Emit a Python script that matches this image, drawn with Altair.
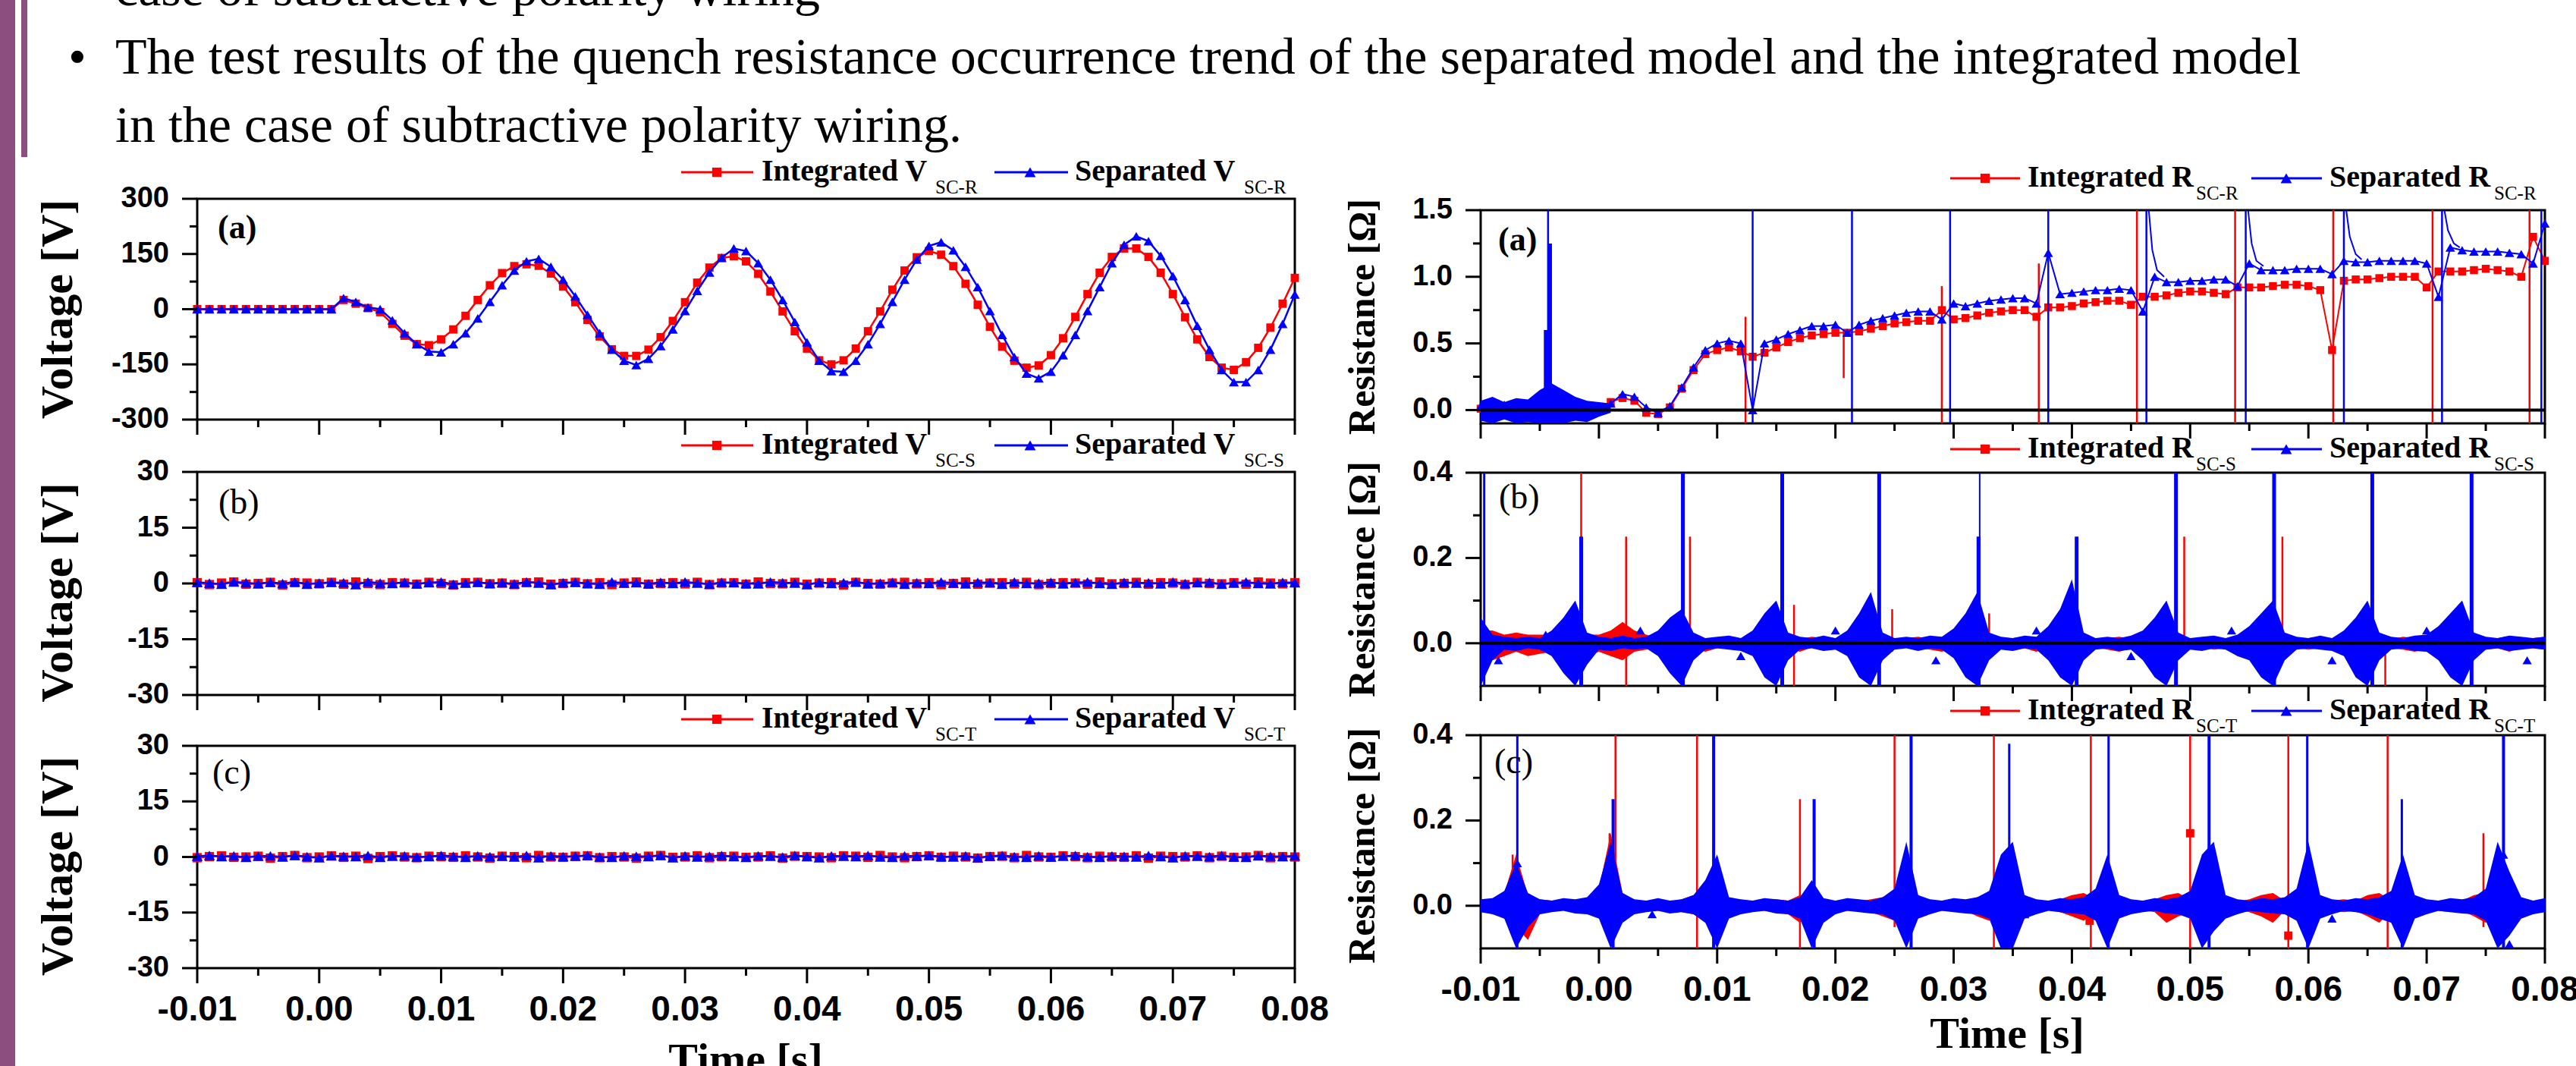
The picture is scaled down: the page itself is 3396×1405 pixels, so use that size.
import altair as alt
import pandas as pd

SERIF = "Liberation Serif"
SANS = "Liberation Sans"
RED = "#FF0000"
BLUE = "#0000FF"
PURPLE = "#8B4E7E"

# ---------------- shared axes data ----------------
TIME = [round(-0.010 + 0.001 * k, 3) for k in range(91)]
X_TICKS = [-0.01, 0.0, 0.01, 0.02, 0.03, 0.04, 0.05, 0.06, 0.07, 0.08]
X_LABELS = ["-0.01", "0.00", "0.01", "0.02", "0.03", "0.04", "0.05", "0.06", "0.07", "0.08"]
X_MINOR = [-0.005, 0.005, 0.015, 0.025, 0.035, 0.045, 0.055, 0.065, 0.075]
VOLT_A_TICKS = [-300, -150, 0, 150, 300]
VOLT_A_LABELS = ["-300", "-150", "0", "150", "300"]
VOLT_A_MINOR = [-225, -75, 75, 225]
VOLT_BC_TICKS = [-30, -15, 0, 15, 30]
VOLT_BC_LABELS = ["-30", "-15", "0", "15", "30"]
VOLT_BC_MINOR = [-22.5, -7.5, 7.5, 22.5]
RES_A_TICKS = [0.0, 0.5, 1.0, 1.5]
RES_A_LABELS = ["0.0", "0.5", "1.0", "1.5"]
RES_A_MINOR = [0.25, 0.75, 1.25]
RES_BC_TICKS = [0.0, 0.2, 0.4]
RES_BC_LABELS = ["0.0", "0.2", "0.4"]
RES_BC_MINOR = [0.1, 0.3]

# ---------------- text ----------------
LINE0 = "case of subtractive polarity wiring"
LINE1 = ("The test results of the quench resistance occurrence trend of the "
         "separated model and the integrated model")
LINE2 = "in the case of subtractive polarity wiring."
SUBS = ["SC-R", "SC-S", "SC-T"]
V_TITLE = "Voltage [V]"
R_TITLE = "Resistance [\u03a9]"
T_TITLE = "Time [s]"

# ---------------- left (a) voltage V_SC-R ----------------
VA_INT = [0, 0, 0, 0, 0, 0, 0, 0, 0, 0,
          0, 0, 25, 15, 3, -8, -40, -72, -95, -98,
          -82, -55, -18, 25, 65, 98, 117, 122, 118, 97,
          62, 19, -29, -74, -109, -127, -127, -110, -76, -32,
          19, 72, 113, 139, 144, 130, 96, 48, -6, -60,
          -107, -139, -150, -139, -107, -60, -6, 53, 105, 141,
          158, 148, 117, 69, 12, -48, -102, -140, -159, -153,
          -125, -79, -21, 41, 99, 142, 165, 165, 142, 99,
          41, -22, -82, -130, -159, -165, -144, -105, -50, 15,
          85]
VA_SEP = [0, 0, 0, 0, 0, 0, 0, 0, 0, 0,
          0, 0, 30, 20, 5, 0, -30, -65, -95, -115,
          -117, -95, -65, -25, 20, 65, 105, 130, 137, 115,
          80, 35, -15, -65, -110, -140, -152, -135, -100, -55,
          -5, 50, 100, 140, 165, 158, 125, 80, 25, -35,
          -90, -140, -168, -170, -140, -95, -40, 20, 80, 135,
          172, 182, 160, 115, 60, -5, -70, -130, -175, -188,
          -170, -125, -70, -5, 60, 125, 175, 198, 185, 145,
          90, 25, -45, -110, -165, -198, -198, -165, -110, -40,
          40]

# ---------------- left (b) V_SC-S, (c) V_SC-T ----------------
VB_INT = [0.2, -0.3, 0.1, 0.4, -0.2, 0.0, 0.3, -0.4, 0.2, 0.1,
          -0.1, 0.3, -0.2, 0.4, 0.0, -0.3, 0.2, 0.1, -0.2, 0.3,
          0.0, -0.4, 0.2, 0.3, -0.1, 0.1, -0.3, 0.2, 0.4, -0.2,
          0.0, 0.3, -0.1, 0.2, -0.3, 0.1, 0.4, -0.2, 0.0, 0.2,
          -0.1, 0.3, -0.3, 0.1, 0.2, -0.2, 0.4, 0.0, -0.1, 0.3,
          -0.2, 0.1, 0.2, -0.4, 0.3, 0.0, -0.2, 0.1, 0.3, -0.1,
          0.2, -0.3, 0.0, 0.4, -0.2, 0.1, 0.2, -0.1, 0.3, -0.3,
          0.0, 0.2, 0.1, -0.2, 0.4, -0.1, 0.0, 0.3, -0.2, 0.2,
          0.1, -0.3, 0.3, 0.0, -0.1, 0.2, -0.2, 0.4, 0.1, -0.1,
          0.2]
VB_SEP = [0.3, 0.1, -0.2, 0.4, 0.2, -0.1, 0.3, 0.0, 0.4, -0.2,
          0.1, 0.3, 0.2, -0.3, 0.4, 0.1, 0.0, 0.3, -0.1, 0.2,
          0.4, -0.2, 0.1, 0.3, 0.0, 0.2, -0.1, 0.4, 0.1, -0.3,
          0.2, 0.3, 0.0, -0.2, 0.4, 0.1, 0.2, -0.1, 0.3, 0.0,
          0.4, 0.1, -0.2, 0.3, 0.2, 0.0, -0.1, 0.4, 0.2, 0.1,
          -0.3, 0.3, 0.0, 0.2, 0.4, -0.1, 0.1, 0.3, -0.2, 0.2,
          0.0, 0.4, 0.1, -0.1, 0.3, 0.2, -0.2, 0.4, 0.0, 0.1,
          0.3, -0.1, 0.2, 0.4, 0.0, -0.2, 0.3, 0.1, 0.2, -0.1,
          0.4, 0.0, 0.2, 0.3, -0.2, 0.1, 0.4, 0.0, -0.1, 0.3,
          0.2]
VC_INT = [-0.2, 0.1, 0.3, -0.1, 0.0, 0.2, -0.3, 0.1, 0.4, -0.2,
          0.0, 0.3, -0.1, 0.2, -0.4, 0.1, 0.3, 0.0, -0.2, 0.2,
          0.1, -0.1, 0.3, 0.0, -0.3, 0.2, 0.1, -0.2, 0.4, 0.0,
          -0.1, 0.2, 0.3, -0.2, 0.1, 0.0, -0.3, 0.2, 0.4, -0.1,
          0.0, 0.3, -0.2, 0.1, 0.2, -0.1, 0.0, 0.3, -0.3, 0.2,
          0.1, 0.0, -0.2, 0.3, 0.2, -0.1, 0.4, 0.0, -0.2, 0.1,
          0.3, -0.1, 0.2, 0.0, -0.3, 0.1, 0.2, -0.2, 0.4, 0.0,
          -0.1, 0.3, 0.1, -0.2, 0.2, 0.0, -0.1, 0.3, -0.3, 0.2,
          0.1, 0.0, 0.3, -0.2, 0.2, -0.1, 0.0, 0.4, -0.2, 0.1,
          0.0]
VC_SEP = [0.2, 0.4, 0.1, 0.3, -0.1, 0.2, 0.3, 0.0, 0.4, 0.1,
          -0.2, 0.3, 0.2, 0.1, 0.4, -0.1, 0.2, 0.3, 0.0, 0.1,
          0.4, 0.2, -0.1, 0.3, 0.1, 0.2, 0.0, 0.4, -0.2, 0.3,
          0.1, 0.2, 0.4, 0.0, -0.1, 0.3, 0.2, 0.1, 0.4, -0.2,
          0.3, 0.0, 0.2, 0.4, 0.1, -0.1, 0.3, 0.2, 0.0, 0.4,
          0.1, -0.2, 0.3, 0.2, 0.1, 0.4, 0.0, -0.1, 0.3, 0.2,
          0.4, 0.1, 0.0, 0.3, -0.2, 0.2, 0.4, 0.1, -0.1, 0.3,
          0.0, 0.2, 0.4, 0.1, -0.1, 0.3, 0.2, 0.0, 0.4, 0.1,
          -0.2, 0.3, 0.2, 0.1, 0.4, 0.0, -0.1, 0.3, 0.2, 0.1,
          0.3]

# ---------------- right (a) R_SC-R ----------------
RA_INT = [0.01, -0.03, 0.02, 0.03, -0.02, 0.0, 0.02, -0.01, 0.03, 0.01,
          0.02, 0.06, 0.09, 0.07, -0.02, -0.03, 0.02, 0.16, 0.3, 0.42,
          0.45, 0.47, 0.44, 0.4, 0.43, 0.47, 0.51, 0.54, 0.56, 0.57,
          0.58, 0.58, 0.59, 0.61, 0.63, 0.65, 0.66, 0.67, 0.67, 0.75,
          0.68, 0.69, 0.71, 0.73, 0.74, 0.75, 0.75, 0.7, 0.77, 0.77,
          0.78, 0.8, 0.81, 0.82, 0.82, 0.79, 0.85, 0.85, 0.86, 0.88,
          0.89, 0.89, 0.88, 0.87, 0.92, 0.92, 0.92, 0.93, 0.94, 0.94,
          0.93, 0.9, 0.45, 0.97, 0.98, 0.98, 0.99, 1.0, 1.0, 1.0,
          0.92, 1.04, 1.04, 1.04, 1.05, 1.06, 1.05, 1.04, 1.0, 1.3,
          1.12]
RA_SEP = [0.03, -0.02, 0.04, 0.01, -0.03, 0.05, 0.02, 0.06, 0.03, 0.0,
          0.02, 0.05, 0.12, 0.1, 0.02, -0.02, 0.03, 0.17, 0.32, 0.45,
          0.5, 0.52, 0.5, 0.0, 0.5, 0.53, 0.57, 0.6, 0.63, 0.63,
          0.64, 0.58, 0.64, 0.67, 0.69, 0.71, 0.73, 0.74, 0.74, 0.68,
          0.8, 0.78, 0.8, 0.82, 0.83, 0.84, 0.84, 0.8, 1.18, 0.87,
          0.88, 0.89, 0.9, 0.9, 0.91, 0.9, 0.74, 1.0, 0.96, 0.96,
          0.97, 0.97, 0.98, 0.98, 0.93, 1.1, 1.05, 1.05, 1.05, 1.06,
          1.06, 1.06, 1.02, 1.12, 1.11, 1.11, 1.12, 1.12, 1.12, 1.12,
          1.1, 0.85, 1.22, 1.2, 1.19, 1.19, 1.19, 1.18, 1.17, 1.1,
          1.4]
RA_SEP_NOISE_HI = [0.07, 0.1, 0.06, 0.09, 0.08, 0.15, 0.2, 0.15, 0.1, 0.07, 0.06, 0.05]
RA_SEP_NOISE_LO = [-0.08, -0.1, -0.07, -0.1, -0.09, -0.1, -0.1, -0.1, -0.08, -0.09, -0.05, -0.02]
RA_SEP_SPK_T = [-0.0044, -0.0043, -0.0041, 0.013, 0.0214, 0.0297, 0.038, 0.0463, 0.0547, 0.063, 0.0713, 0.0797]
RA_SEP_SPK_LO = [-0.1, -0.1, -0.1, -0.1, -0.1, -0.1, -0.1, -0.1, -0.1, -0.1, -0.1, -0.1]
RA_SEP_SPK_HI = [0.6, 1.5, 1.25, 1.5, 1.5, 1.5, 1.5, 1.5, 1.5, 1.5, 1.5, 1.5]
RA_SEP_SPK_W = [8, 2.5, 4, 2.5, 2.5, 2.5, 2.5, 2.5, 2.5, 2.5, 2.5, 2.5]
RA_INT_SPK_T = [0.0124, 0.0207, 0.029, 0.0372, 0.0455, 0.0538, 0.0621, 0.0705, 0.0787]
RA_INT_SPK_LO = [-0.1, 0.24, -0.1, -0.1, -0.1, -0.1, -0.1, -0.1, -0.1]
RA_INT_SPK_HI = [0.7, 0.6, 0.93, 1.1, 1.5, 1.5, 1.5, 1.5, 1.5]
RA_DECAY_T = [0.0465, 0.0468, 0.0472, 0.0478, 0.0549, 0.0552, 0.0556, 0.0562,
              0.0632, 0.0635, 0.064, 0.0645, 0.0715, 0.0718, 0.0723, 0.0728]
RA_DECAY_V = [1.5, 1.2, 1.05, 1.0, 1.5, 1.25, 1.12, 1.08,
              1.5, 1.3, 1.17, 1.13, 1.5, 1.35, 1.25, 1.22]
RA_DECAY_G = [1, 1, 1, 1, 2, 2, 2, 2, 3, 3, 3, 3, 4, 4, 4, 4]

# ---------------- right (b) R_SC-S ----------------
RB_SEP_HI = [0.06, 0.02, 0.015, 0.012, 0.015, 0.012, 0.03, 0.06, 0.1, 0.025,
             0.015, 0.012, 0.018, 0.012, 0.015, 0.03, 0.06, 0.08, 0.025, 0.012,
             0.015, 0.018, 0.012, 0.03, 0.07, 0.1, 0.025, 0.015, 0.012, 0.018,
             0.012, 0.03, 0.07, 0.12, 0.025, 0.012, 0.015, 0.012, 0.018, 0.015,
             0.035, 0.07, 0.12, 0.025, 0.015, 0.012, 0.018, 0.015, 0.04, 0.08,
             0.15, 0.025, 0.012, 0.015, 0.012, 0.018, 0.03, 0.06, 0.1, 0.025,
             0.012, 0.015, 0.018, 0.012, 0.02, 0.04, 0.07, 0.1, 0.025, 0.015,
             0.012, 0.018, 0.012, 0.03, 0.06, 0.1, 0.025, 0.015, 0.012, 0.018,
             0.02, 0.04, 0.07, 0.1, 0.025, 0.015, 0.012, 0.018, 0.015, 0.012,
             0.015]
RB_SEP_LO = [-0.1, -0.04, -0.015, -0.018, -0.012, -0.015, -0.03, -0.07, -0.1, -0.05,
             -0.015, -0.018, -0.012, -0.015, -0.012, -0.03, -0.07, -0.1, -0.04, -0.015,
             -0.012, -0.015, -0.018, -0.03, -0.08, -0.1, -0.04, -0.015, -0.012, -0.018,
             -0.015, -0.03, -0.08, -0.1, -0.04, -0.015, -0.012, -0.018, -0.012, -0.015,
             -0.035, -0.08, -0.1, -0.04, -0.015, -0.018, -0.012, -0.015, -0.04, -0.08,
             -0.1, -0.04, -0.015, -0.012, -0.018, -0.015, -0.04, -0.08, -0.1, -0.04,
             -0.015, -0.018, -0.012, -0.015, -0.03, -0.04, -0.08, -0.1, -0.04, -0.015,
             -0.012, -0.015, -0.018, -0.03, -0.08, -0.1, -0.04, -0.015, -0.012, -0.018,
             -0.02, -0.04, -0.08, -0.1, -0.04, -0.015, -0.012, -0.018, -0.015, -0.012,
             -0.015]
RB_INT_HI = [0.03, 0.03, 0.02, 0.025, 0.02, 0.02, 0.02, 0.03, 0.05, 0.02,
             0.02, 0.03, 0.05, 0.03, 0.02, 0.012, 0.015, 0.02, 0.012, 0.01,
             0.012, 0.015, 0.01, 0.012, 0.015, 0.02, 0.012, 0.01, 0.015, 0.012,
             0.01, 0.012, 0.015, 0.02, 0.012, 0.01, 0.012, 0.015, 0.01, 0.012,
             0.015, 0.012, 0.02, 0.012, 0.01, 0.012, 0.015, 0.01, 0.012, 0.015,
             0.02, 0.012, 0.01, 0.012, 0.015, 0.012, 0.01, 0.015, 0.02, 0.012,
             0.01, 0.012, 0.015, 0.01, 0.012, 0.015, 0.012, 0.02, 0.012, 0.01,
             0.012, 0.015, 0.01, 0.012, 0.015, 0.02, 0.012, 0.01, 0.015, 0.012,
             0.01, 0.012, 0.015, 0.02, 0.012, 0.01, 0.012, 0.015, 0.01, 0.012,
             0.015]
RB_INT_LO = [-0.03, -0.04, -0.03, -0.02, -0.03, -0.025, -0.02, -0.03, -0.06, -0.03,
             -0.02, -0.03, -0.04, -0.02, -0.015, -0.012, -0.01, -0.015, -0.012, -0.02,
             -0.012, -0.01, -0.015, -0.012, -0.01, -0.015, -0.012, -0.02, -0.01, -0.012,
             -0.015, -0.012, -0.01, -0.015, -0.02, -0.012, -0.01, -0.012, -0.015, -0.02,
             -0.012, -0.01, -0.015, -0.012, -0.01, -0.015, -0.012, -0.02, -0.01, -0.012,
             -0.015, -0.012, -0.01, -0.015, -0.02, -0.012, -0.01, -0.012, -0.015, -0.02,
             -0.012, -0.01, -0.015, -0.012, -0.01, -0.015, -0.012, -0.02, -0.01, -0.012,
             -0.015, -0.012, -0.01, -0.015, -0.02, -0.012, -0.01, -0.012, -0.015, -0.02,
             -0.012, -0.01, -0.015, -0.012, -0.01, -0.015, -0.012, -0.02, -0.01, -0.012,
             -0.015]
RB_SEP_SPK_T = [-0.0097, -0.0015, 0.0071, 0.0155, 0.0237, 0.0321, 0.0322, 0.0404, 0.0488, 0.0571, 0.0654, 0.0738]
RB_SEP_SPK_LO = [-0.1, -0.1, -0.1, -0.1, -0.1, -0.1, -0.1, -0.1, -0.1, -0.1, -0.1, -0.1]
RB_SEP_SPK_HI = [0.4, 0.25, 0.4, 0.4, 0.4, 0.25, 0.4, 0.25, 0.4, 0.4, 0.4, 0.4]
RB_SEP_SPK_W = [3, 5, 5, 5, 5, 5, 2, 5, 5, 5, 5, 5]
RB_INT_SPK_T = [-0.0015, 0.0023, 0.0077, 0.0165, 0.0248, 0.033, 0.0495, 0.0578, 0.0665]
RB_INT_SPK_LO = [-0.1, -0.1, -0.03, -0.1, -0.02, -0.02, -0.02, -0.02, -0.1]
RB_INT_SPK_HI = [0.4, 0.25, 0.25, 0.09, 0.08, 0.07, 0.25, 0.25, 0.0]
RB_SEP_MARK_T = [-0.0085, -0.0045, 0.0035, 0.012, 0.02, 0.0285, 0.037, 0.045, 0.0535, 0.062, 0.07, 0.0785]
RB_SEP_MARK_V = [-0.04, 0.02, 0.03, -0.03, 0.03, -0.04, 0.03, -0.03, 0.03, -0.04, 0.03, -0.04]

# ---------------- right (c) R_SC-T ----------------
RC_SEP_HI = [0.015, 0.018, 0.035, 0.1, 0.03, 0.015, 0.012, 0.018, 0.015, 0.02,
             0.05, 0.15, 0.03, 0.015, 0.012, 0.018, 0.012, 0.015, 0.025, 0.06,
             0.12, 0.02, 0.015, 0.012, 0.018, 0.015, 0.012, 0.02, 0.06, 0.018,
             0.012, 0.018, 0.015, 0.012, 0.02, 0.04, 0.15, 0.025, 0.015, 0.012,
             0.018, 0.015, 0.02, 0.035, 0.12, 0.15, 0.025, 0.015, 0.012, 0.018,
             0.015, 0.02, 0.04, 0.12, 0.025, 0.015, 0.012, 0.018, 0.015, 0.02,
             0.035, 0.12, 0.15, 0.025, 0.015, 0.012, 0.018, 0.015, 0.02, 0.04,
             0.15, 0.025, 0.015, 0.012, 0.018, 0.015, 0.02, 0.035, 0.12, 0.025,
             0.015, 0.012, 0.018, 0.015, 0.02, 0.04, 0.15, 0.08, 0.02, 0.012,
             0.018]
RC_SEP_LO = [-0.015, -0.02, -0.03, -0.1, -0.05, -0.02, -0.015, -0.012, -0.018, -0.02,
             -0.03, -0.1, -0.04, -0.02, -0.015, -0.012, -0.018, -0.015, -0.02, -0.04,
             -0.1, -0.03, -0.02, -0.015, -0.012, -0.018, -0.02, -0.03, -0.1, -0.04,
             -0.02, -0.012, -0.015, -0.018, -0.02, -0.035, -0.1, -0.03, -0.02, -0.012,
             -0.015, -0.018, -0.02, -0.03, -0.1, -0.1, -0.03, -0.02, -0.012, -0.015,
             -0.018, -0.02, -0.035, -0.1, -0.03, -0.02, -0.015, -0.012, -0.018, -0.02,
             -0.03, -0.1, -0.06, -0.03, -0.02, -0.012, -0.015, -0.018, -0.02, -0.035,
             -0.1, -0.03, -0.02, -0.012, -0.015, -0.02, -0.03, -0.04, -0.1, -0.03,
             -0.02, -0.012, -0.015, -0.018, -0.02, -0.035, -0.1, -0.07, -0.03, -0.02,
             -0.015]
RC_INT_HI = [0.012, 0.015, 0.03, 0.12, 0.025, 0.015, 0.012, 0.01, 0.012, 0.015,
             0.04, 0.17, 0.03, 0.012, 0.01, 0.012, 0.01, 0.015, 0.025, 0.03,
             0.015, 0.01, 0.012, 0.01, 0.012, 0.015, 0.012, 0.025, 0.02, 0.012,
             0.01, 0.012, 0.01, 0.015, 0.02, 0.03, 0.015, 0.012, 0.01, 0.012,
             0.01, 0.012, 0.02, 0.03, 0.015, 0.012, 0.01, 0.012, 0.01, 0.015,
             0.025, 0.03, 0.015, 0.012, 0.01, 0.012, 0.01, 0.015, 0.025, 0.03,
             0.015, 0.012, 0.01, 0.012, 0.01, 0.015, 0.025, 0.03, 0.012, 0.01,
             0.012, 0.01, 0.012, 0.015, 0.012, 0.025, 0.03, 0.012, 0.01, 0.012,
             0.01, 0.012, 0.015, 0.012, 0.025, 0.03, 0.015, 0.012, 0.01, 0.012,
             0.01]
RC_INT_LO = [-0.012, -0.015, -0.03, -0.05, -0.08, -0.02, -0.012, -0.01, -0.012, -0.015,
             -0.02, -0.03, -0.02, -0.012, -0.01, -0.012, -0.01, -0.015, -0.02, -0.035,
             -0.015, -0.01, -0.012, -0.01, -0.012, -0.015, -0.02, -0.04, -0.02, -0.012,
             -0.01, -0.012, -0.01, -0.015, -0.025, -0.035, -0.015, -0.012, -0.01, -0.012,
             -0.01, -0.012, -0.025, -0.035, -0.015, -0.012, -0.01, -0.012, -0.01, -0.015,
             -0.025, -0.035, -0.015, -0.012, -0.01, -0.012, -0.01, -0.015, -0.04, -0.025,
             -0.015, -0.012, -0.01, -0.012, -0.01, -0.015, -0.025, -0.04, -0.012, -0.01,
             -0.012, -0.01, -0.012, -0.015, -0.012, -0.025, -0.04, -0.012, -0.01, -0.012,
             -0.01, -0.012, -0.015, -0.012, -0.025, -0.04, -0.015, -0.012, -0.01, -0.012,
             -0.01]
RC_SEP_SPK_T = [-0.0069, 0.0012, 0.0097, 0.0182, 0.0264, 0.0347, 0.0431, 0.0516, 0.0599, 0.0679, 0.0765]
RC_SEP_SPK_LO = [-0.1, -0.1, -0.1, -0.1, -0.1, -0.1, -0.1, -0.1, -0.1, -0.1, -0.1]
RC_SEP_SPK_HI = [0.4, 0.25, 0.4, 0.25, 0.4, 0.38, 0.4, 0.4, 0.4, 0.25, 0.4]
RC_SEP_SPK_W = [3, 4, 4, 4, 4, 3, 3, 4, 3, 3, 4]
RC_INT_SPK_T = [-0.0073, 0.0009, 0.0014, 0.0083, 0.017, 0.025, 0.0334, 0.0416, 0.05, 0.0583, 0.0667, 0.0748]
RC_INT_SPK_LO = [-0.05, -0.03, -0.03, -0.1, -0.1, -0.05, -0.1, -0.1, -0.1, -0.1, -0.1, -0.05]
RC_INT_SPK_HI = [0.12, 0.17, 0.4, 0.4, 0.25, 0.4, 0.4, 0.4, 0.4, 0.4, 0.4, 0.17]
RC_SEP_MARK_T = [-0.0069, 0.001, 0.0045, 0.0185, 0.036, 0.062, 0.0765, 0.077]
RC_SEP_MARK_V = [0.1, -0.05, -0.02, -0.02, -0.02, -0.03, 0.12, -0.09]
RC_INT_MARK_T = [0.05, 0.0583, 0.0415, 0.0008]
RC_INT_MARK_V = [0.17, -0.07, -0.035, 0.09]

# ---------------- helpers ----------------
DUMMY = pd.DataFrame({"k": [0]})
XDOM = [-0.01, 0.08]
LAYERS = []


class Panel:
    def __init__(self, x0, x1, y0, y1, dom):
        self.x0, self.x1, self.y0, self.y1, self.dom = x0, x1, y0, y1, dom

    def X(self, f="t"):
        return alt.X(f"{f}:Q", scale=alt.Scale(domain=XDOM, range=[self.x0, self.x1], nice=False,
                                               zero=False, clamp=True), axis=None)

    def Y(self, f="v"):
        return alt.Y(f"{f}:Q", scale=alt.Scale(domain=self.dom, range=[self.y1, self.y0], nice=False,
                                               zero=False, clamp=True), axis=None)


def txt(s, x, y, size, bold=False, align="left", baseline="alphabetic", angle=0, font=SERIF):
    kw = dict(text=s, font=font, fontSize=size, fontWeight="bold" if bold else "normal",
              align=align, baseline=baseline, color="black")
    if angle:
        kw["angle"] = angle
    return alt.Chart(DUMMY).mark_text(**kw).encode(x=alt.value(x), y=alt.value(y))


def hrule(x1, x2, y, color="black", w=3):
    return alt.Chart(DUMMY).mark_rule(color=color, strokeWidth=w).encode(
        x=alt.value(x1), x2=alt.value(x2), y=alt.value(y))


def frame(P):
    LAYERS.append(alt.Chart(DUMMY).mark_rect(filled=False, stroke="black", strokeWidth=3).encode(
        x=alt.value(P.x0), x2=alt.value(P.x1), y=alt.value(P.y0), y2=alt.value(P.y1)))


def axes(P, yticks, ylabels, yminor, xlabels):
    d = pd.DataFrame({"t": X_TICKS, "lab": X_LABELS})
    LAYERS.append(alt.Chart(d).mark_rule(color="black", strokeWidth=3).encode(
        x=P.X("t"), y=alt.value(P.y1), y2=alt.value(P.y1 + 20)))
    LAYERS.append(alt.Chart(pd.DataFrame({"t": X_MINOR})).mark_rule(color="black", strokeWidth=3).encode(
        x=P.X("t"), y=alt.value(P.y1), y2=alt.value(P.y1 + 10)))
    if xlabels:
        LAYERS.append(alt.Chart(d).mark_text(font=SANS, fontWeight="bold", fontSize=46, align="center",
                                             baseline="alphabetic", color="black").encode(
            x=P.X("t"), y=alt.value(P.y1 + 69), text="lab:N"))
    dy = pd.DataFrame({"v": yticks, "lab": ylabels})
    LAYERS.append(alt.Chart(dy).mark_rule(color="black", strokeWidth=3).encode(
        y=P.Y("v"), x=alt.value(P.x0 - 20), x2=alt.value(P.x0)))
    LAYERS.append(alt.Chart(pd.DataFrame({"v": yminor})).mark_rule(color="black", strokeWidth=3).encode(
        y=P.Y("v"), x=alt.value(P.x0 - 10), x2=alt.value(P.x0)))
    LAYERS.append(alt.Chart(dy).mark_text(font=SANS, fontWeight="bold", fontSize=38, align="right",
                                          baseline="middle", color="black").encode(
        y=P.Y("v"), x=alt.value(P.x0 - 37), text="lab:N"))


def line_pts(P, t, v, color, shape, size, sw=2.5):
    d = pd.DataFrame({"t": t, "v": v})
    LAYERS.append(alt.Chart(d).mark_line(color=color, strokeWidth=sw).encode(x=P.X(), y=P.Y()))
    LAYERS.append(alt.Chart(d).mark_point(shape=shape, filled=True, size=size, color=color,
                                          opacity=1).encode(x=P.X(), y=P.Y()))


def pts(P, t, v, color, shape, size):
    d = pd.DataFrame({"t": t, "v": v})
    LAYERS.append(alt.Chart(d).mark_point(shape=shape, filled=True, size=size, color=color,
                                          opacity=1).encode(x=P.X(), y=P.Y()))


def spikes(P, t, lo, hi, w, color):
    d = pd.DataFrame({"t": t, "lo": lo, "hi": hi, "w": w})
    LAYERS.append(alt.Chart(d).mark_rule(color=color).encode(
        x=P.X(), y=P.Y("lo"), y2=alt.Y2("hi"), strokeWidth=alt.StrokeWidth("w:Q", scale=None)))


def band(P, t, lo, hi, color):
    d = pd.DataFrame({"t": t, "lo": lo, "hi": hi})
    LAYERS.append(alt.Chart(d).mark_area(color=color, opacity=1).encode(
        x=P.X(), y=P.Y("lo"), y2=alt.Y2("hi")))


def zero_line(P):
    LAYERS.append(alt.Chart(pd.DataFrame({"v": [0.0]})).mark_rule(color="black", strokeWidth=4).encode(
        y=P.Y(), x=alt.value(P.x0), x2=alt.value(P.x1)))


def legend(P, letter, sub, rel, dy):
    r1, r2, rm, rt, rs, b1, b2, bm, bt, bs = [P.x0 + r for r in rel]
    y0 = P.y0 + dy
    LAYERS.append(hrule(r1, r2, y0, RED, 3))
    LAYERS.append(alt.Chart(DUMMY).mark_point(shape="square", filled=True, size=150, color=RED,
                                              opacity=1).encode(x=alt.value(rm), y=alt.value(y0)))
    LAYERS.append(txt("Integrated " + letter, rt, y0 + 11, 40, bold=True))
    LAYERS.append(txt(sub, rs, y0 + 28, 25))
    LAYERS.append(hrule(b1, b2, y0, BLUE, 3))
    LAYERS.append(alt.Chart(DUMMY).mark_point(shape="triangle-up", filled=True, size=220, color=BLUE,
                                              opacity=1).encode(x=alt.value(bm), y=alt.value(y0)))
    LAYERS.append(txt("Separated " + letter, bt, y0 + 11, 40, bold=True))
    LAYERS.append(txt(sub, bs, y0 + 28, 25))


LEG_L = (638, 733, 685, 744, 973, 1051, 1148, 1098, 1157, 1380)
LEG_R = (619, 711, 665, 721, 943, 1016, 1109, 1062, 1119, 1336)

# ---------------- header ----------------
LAYERS.append(alt.Chart(DUMMY).mark_rect(color=PURPLE).encode(
    x=alt.value(0), x2=alt.value(20), y=alt.value(0), y2=alt.value(1405)))
LAYERS.append(alt.Chart(DUMMY).mark_rect(color=PURPLE).encode(
    x=alt.value(28), x2=alt.value(36), y=alt.value(0), y2=alt.value(207)))
LAYERS.append(txt(LINE0, 152, 7, 68))
LAYERS.append(txt("\u2022", 102, 97, 68, align="center"))
LAYERS.append(txt(LINE1, 152, 97, 68))
LAYERS.append(txt(LINE2, 152, 187, 68))

# ---------------- left panels ----------------
PLA = Panel(260, 1707, 262, 553, [-300, 300])
PLB = Panel(260, 1707, 622, 916, [-30, 30])
PLC = Panel(260, 1707, 983, 1276, [-30, 30])

for P, vi, vs, sub, tag, tx, ty, tb, xl, toff, sq, tri in [
        (PLA, VA_INT, VA_SEP, SUBS[0], "(a)", 27, 39, True, False, 0, 120, 170),
        (PLB, VB_INT, VB_SEP, SUBS[1], "(b)", 28, 41, False, False, 12, 150, 210),
        (PLC, VC_INT, VC_SEP, SUBS[2], "(c)", 20, 36, False, True, 12, 150, 210)]:
    frame(P)
    ticks = VOLT_A_TICKS if P is PLA else VOLT_BC_TICKS
    labels = VOLT_A_LABELS if P is PLA else VOLT_BC_LABELS
    minor = VOLT_A_MINOR if P is PLA else VOLT_BC_MINOR
    line_pts(P, TIME, vi, RED, "square", sq)
    line_pts(P, TIME, vs, BLUE, "triangle-up", tri)
    axes(P, ticks, labels, minor, xl)
    legend(P, "V", sub, LEG_L, -35)
    LAYERS.append(txt(tag, P.x0 + tx, P.y0 + ty, 44 if tb else 46, bold=tb, baseline="middle"))
    LAYERS.append(txt(V_TITLE, 77, (P.y0 + P.y1) / 2 + toff, 60, bold=True, align="center",
                      baseline="middle", angle=270))

LAYERS.append(txt(T_TITLE, 983, 1415, 58, bold=True, align="center"))

# ---------------- right panels ----------------
PRA = Panel(1952, 3355, 277, 558, [-0.1, 1.5])
PRB = Panel(1952, 3355, 623, 904, [-0.1, 0.4])
PRC = Panel(1952, 3355, 969, 1250, [-0.1, 0.4])

# (a)
frame(PRA)
line_pts(PRA, TIME, RA_INT, RED, "square", 110, 2)
spikes(PRA, RA_INT_SPK_T, RA_INT_SPK_LO, RA_INT_SPK_HI, [2.5] * len(RA_INT_SPK_T), RED)
band(PRA, TIME[:12], RA_SEP_NOISE_LO, RA_SEP_NOISE_HI, BLUE)
line_pts(PRA, TIME, RA_SEP, BLUE, "triangle-up", 160, 2)
LAYERS.append(alt.Chart(pd.DataFrame({"t": RA_DECAY_T, "v": RA_DECAY_V, "g": RA_DECAY_G}))
              .mark_line(color=BLUE, strokeWidth=2).encode(x=PRA.X(), y=PRA.Y(), detail="g:N"))
spikes(PRA, RA_SEP_SPK_T, RA_SEP_SPK_LO, RA_SEP_SPK_HI, RA_SEP_SPK_W, BLUE)
zero_line(PRA)
axes(PRA, RES_A_TICKS, RES_A_LABELS, RES_A_MINOR, False)
legend(PRA, "R", SUBS[0], LEG_R, -42)
LAYERS.append(txt("(a)", PRA.x0 + 23, PRA.y0 + 40, 44, bold=True, baseline="middle"))

# (b)
frame(PRB)
band(PRB, TIME, RB_INT_LO, RB_INT_HI, RED)
spikes(PRB, RB_INT_SPK_T, RB_INT_SPK_LO, RB_INT_SPK_HI, [2.5] * len(RB_INT_SPK_T), RED)
band(PRB, TIME, RB_SEP_LO, RB_SEP_HI, BLUE)
spikes(PRB, RB_SEP_SPK_T, RB_SEP_SPK_LO, RB_SEP_SPK_HI, RB_SEP_SPK_W, BLUE)
pts(PRB, RB_SEP_MARK_T, RB_SEP_MARK_V, BLUE, "triangle-up", 150)
zero_line(PRB)
axes(PRB, RES_BC_TICKS, RES_BC_LABELS, RES_BC_MINOR, False)
legend(PRB, "R", SUBS[1], LEG_R, -31)
LAYERS.append(txt("(b)", PRB.x0 + 24, PRB.y0 + 33, 46, baseline="middle"))

# (c)
frame(PRC)
band(PRC, TIME, RC_INT_LO, RC_INT_HI, RED)
spikes(PRC, RC_INT_SPK_T, RC_INT_SPK_LO, RC_INT_SPK_HI, [2.5] * len(RC_INT_SPK_T), RED)
pts(PRC, RC_INT_MARK_T, RC_INT_MARK_V, RED, "square", 120)
band(PRC, TIME, RC_SEP_LO, RC_SEP_HI, BLUE)
spikes(PRC, RC_SEP_SPK_T, RC_SEP_SPK_LO, RC_SEP_SPK_HI, RC_SEP_SPK_W, BLUE)
pts(PRC, RC_SEP_MARK_T, RC_SEP_MARK_V, BLUE, "triangle-up", 150)
axes(PRC, RES_BC_TICKS, RES_BC_LABELS, RES_BC_MINOR, True)
legend(PRC, "R", SUBS[2], LEG_R, -32)
LAYERS.append(txt("(c)", PRC.x0 + 18, PRC.y0 + 36, 46, baseline="middle"))
LAYERS.append(txt(T_TITLE, 2646, 1381, 58, bold=True, align="center"))

for P, off in [(PRA, 0), (PRB, 0), (PRC, 5)]:
    LAYERS.append(txt(R_TITLE, 1797, (P.y0 + P.y1) / 2 + off, 50, bold=True, align="center",
                      baseline="middle", angle=270))

chart = (alt.layer(*LAYERS)
         .resolve_scale(x="independent", y="independent")
         .properties(width=3396, height=1405, padding=0, background="white",
                     autosize=alt.AutoSizeParams(type="none"))
         .configure_view(stroke=None))

chart.save("out.html", embed_options={"renderer": "svg", "actions": False})
